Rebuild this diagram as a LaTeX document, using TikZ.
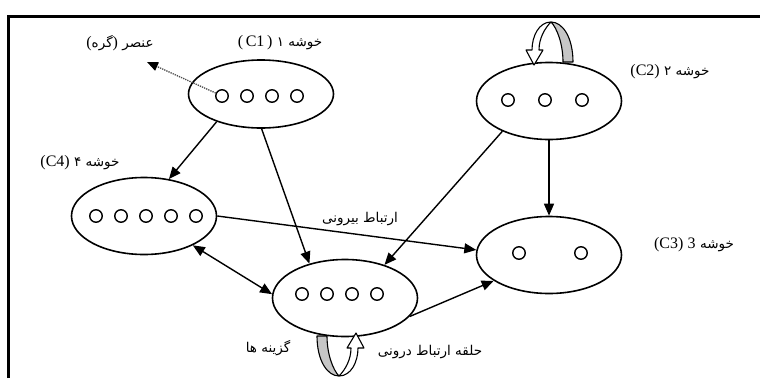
\documentclass[tikz,border=0pt]{standalone}
\usepackage{fontspec}
\setmainfont{Liberation Serif}
\newfontfamily\fa[Script=Arabic]{DejaVu Sans}
\TeXXeTstate=1
\usetikzlibrary{shapes.geometric,arrows.meta}
\newcommand\lt[1]{\beginL{\rmfamily\fontsize{16}{18}\selectfont #1}\endL}
\begin{document}
\begin{tikzpicture}[x=1pt,y=-1pt,
  cl/.style={ellipse,draw,line width=1.6pt,fill=white,minimum width=145pt,minimum height=77pt,inner sep=0pt},
  el/.style={circle,draw,line width=1.4pt,minimum size=12.5pt,inner sep=0pt},
  ar/.style={line width=1.4pt,-{Triangle[length=12pt,width=10pt]}},
  lab/.style={font=\fa\fontsize{13.5}{15}\selectfont,inner sep=1pt},
  loopar/.pic={
    \filldraw[fill=gray!45,line width=1.1pt,line join=round]
      (24,0) .. controls (24,-24) and (14,-40) .. (2,-40)
      .. controls (8,-34) and (14,-18) .. (14,0) -- cycle;
    \filldraw[fill=white,line width=1.1pt,line join=round]
      (2,-40) .. controls (-10,-40) and (-17,-26) .. (-17,-12)
      -- (-23,-12) -- (-15,3) -- (-6,-12) -- (-10,-12)
      .. controls (-10,-24) and (-4,-34) .. (2,-40) -- cycle;
  }]
\useasboundingbox (0,0) rectangle (760,378);
% frame
\draw[line width=3pt,line join=miter] (8.5,378) -- (8.5,16) -- (760,16);

% clusters
\node[cl,minimum height=68pt] (c1) at (261,94) {};
\node[cl] (c2) at (549,101) {};
\node[cl] (c3) at (549,255) {};
\node[cl] (c4) at (144,216) {};
\node[cl] (c0) at (345,298) {};

% elements
\foreach \n/\x in {a/222,b/247,c/272,d/297} \node[el] (c1\n) at (\x,96) {};
\foreach \n/\x in {a/508,b/545,c/582} \node[el] (c2\n) at (\x,100) {};
\foreach \n/\x in {a/519,b/581} \node[el] (c3\n) at (\x,253) {};
\foreach \n/\x in {a/96,b/121,c/146,d/171,e/196} \node[el] (c4\n) at (\x,216) {};
\foreach \n/\x in {a/302,b/327,c/352,d/377} \node[el] (c0\n) at (\x,294) {};

% loops
\pic (lpa) at (549,62) {loopar};
\pic[rotate=180] (lpb) at (341,336) {loopar};

% connectors
\draw[ar] (c1.212) -- (c4.56);
\draw[ar] (c1.-89) -- (c0.136);
\draw[ar] (c2.213) -- (c0.40);
\draw[ar] (c2.south) -- (c3.north);
\draw[ar] (c4.east) -- (c3.176);
\draw[line width=1.4pt,{Triangle[length=12pt,width=10pt]}-{Triangle[length=12pt,width=10pt]}] (c4.-31) -- (c0.177);
\draw[ar] (c0.-16) -- (c3.205);
\coordinate (elemtip) at (147,62);
\draw[densely dotted,line width=1.3pt,gray!60!black,-{Triangle[length=11pt,width=9pt,color=black]}] (c1a.155) -- (elemtip);

% labels
\node[lab] (lelem) at (120,43) {\beginR عنصر \lt{)}گره\lt{(}\endR};
\node[lab] (l1) at (280,43) {\beginR خوشه ۱ \lt{(\,C1\,)}\endR};
\node[lab] (l4) at (80,163) {\beginR خوشه ۴ \lt{(C4)}\endR};
\node[lab] (l2) at (670,72) {\beginR خوشه ۲ \lt{(C2)}\endR};
\node[lab] (l3) at (694,245) {\beginR خوشه \lt{3} \lt{(C3)}\endR};
\node[lab] (lout) at (360,219) {\beginR ارتباط بیرونی\endR};
\node[lab] (lopt) at (268,348) {\beginR گزینه ها\endR};
\node[lab] (lin) at (430,352) {\beginR حلقه ارتباط درونی\endR};
\end{tikzpicture}
\end{document}
